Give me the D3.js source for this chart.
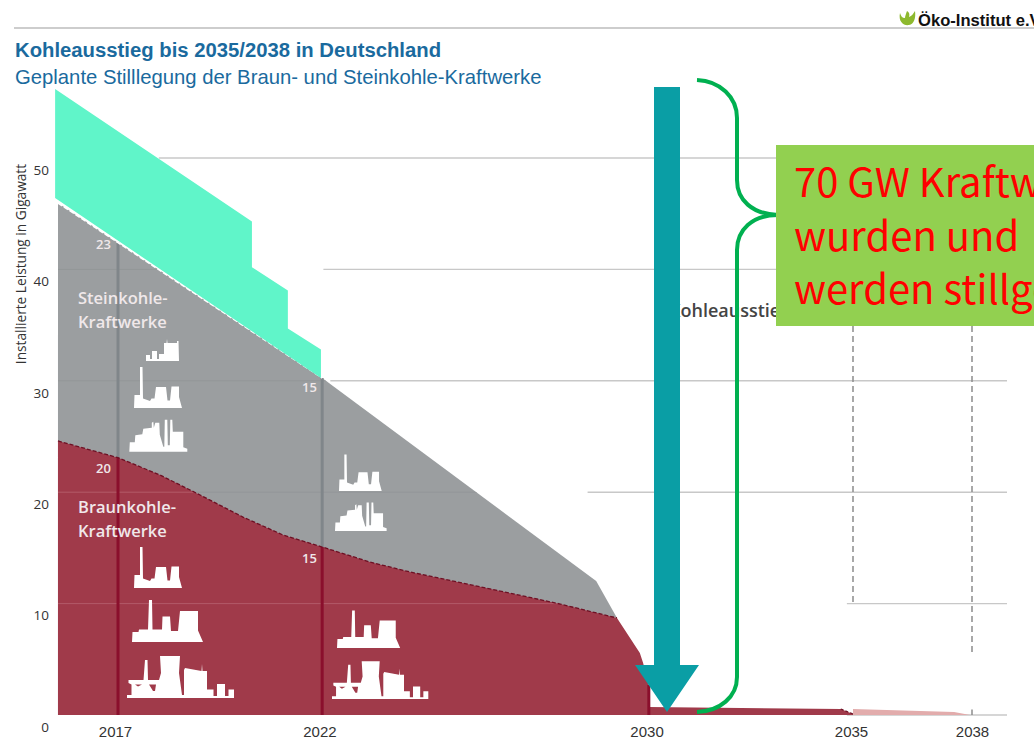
<!DOCTYPE html>
<html>
<head>
<meta charset="utf-8">
<title>Kohleausstieg</title>
<script src="https://cdn.jsdelivr.net/npm/d3@7"></script>
<style>
html, body { margin: 0; padding: 0; background: #fff; overflow: hidden; }
svg { display: block; }
</style>
</head>
<body>
<div id="chart"></div>
<script>
// values (year, gigawatt)
var coalYears = [2015.53, 2017, 2022, 2028.71, 2029.22];
var coalTop = [45.96, 42.4, 30.25, 12.03, 8.71];

var ligniteYears = [2015.53, 2017, 2018.03, 2019.01, 2020.06, 2021.04, 2022, 2023.17, 2024.15, 2026.36, 2027.83, 2029.22,
    2029.54, 2029.78, 2029.86, 2030, 2030, 2034.7, 2035];
var ligniteTop = [24.6, 23.1, 21.54, 19.75, 17.77, 16.16, 15.08, 13.73, 12.84, 11.13, 9.96, 8.71,
    6.91, 5.57, 4.67, 2.69, 0.72, 0.54, 0.09];

var paleYears = [2035, 2037.55, 2037.95];
var paleTop = [0.54, 0.27, 0];

// the mint patch that was laid over the old 2015-2022 edge
var patchYears = [2015.46, 2020.28, 2020.28, 2021.16, 2021.16, 2021.97, 2021.97, 2015.46];
var patchValues = [56.2, 44.3, 40.2, 38.1, 34.7, 32.8, 30.25, 46.4];

var yTicks = [0, 10, 20, 30, 40, 50];
var xTicks = [2017, 2022, 2030, 2035, 2038];
var gridValues = [50, 40, 30, 20, 10, 0];
var gridFrom = [2018, 2022.03, 2022.2, 2028.5, 2034.85, 2034.85];

var markYears = [2017, 2022];
var boxLines = ['70 GW Kraftwerke', 'wurden und', 'werden stillgelegt'];

var width = 1034, height = 742;
var colGrey = '#9b9ea0', colRed = '#a03a4a', colDarkRed = '#8a0f2c', colMint = '#60f5c9',
    colTeal = '#0a9ea5', colGreen = '#00b050', colBlue = '#1a6a9e';

var x = d3.scaleLinear().domain([2017, 2035, 2038]).range([118, 853, 972]);
var xLabel = d3.scaleLinear().domain([2017, 2035, 2038]).range([115, 851, 972]);
var y = d3.scaleLinear().domain([0, 50]).range([715, 158]);

var svg = d3.select('#chart').append('svg').attr('width', width).attr('height', height);

var soft = svg.append('filter').attr('id', 'soft');
soft.append('feGaussianBlur').attr('stdDeviation', 0.45);

function rows(xs, ys) {
    return xs.map(function(d, i) { return [d, ys[i]]; });
}

var area = d3.area().x(function(d) { return x(d[0]); }).y0(y(0)).y1(function(d) { return y(d[1]); });
var line = d3.line().x(function(d) { return x(d[0]); }).y(function(d) { return y(d[1]); });

var coal = rows(coalYears, coalTop);
var lignite = rows(ligniteYears, ligniteTop);
var pale = rows(paleYears, paleTop);

// faint gridlines inside one area
function innerGrid(clipId, shape, values, color) {
    svg.append('clipPath').attr('id', clipId).append('path').datum(shape).attr('d', area);
    svg.append('g').attr('clip-path', 'url(#' + clipId + ')').selectAll('line').data(values).enter().append('line')
        .attr('x1', x(2015.53)).attr('x2', x(2030))
        .attr('y1', function(d) { return y(d); })
        .attr('y2', function(d) { return y(d); })
        .attr('stroke', color);
}

// header
svg.append('line').attr('x1', 14).attr('x2', width).attr('y1', 28).attr('y2', 28)
    .attr('stroke', '#bdbdbd').attr('stroke-width', 1.5);
svg.append('text').attr('x', 15).attr('y', 57).attr('fill', colBlue)
    .style('font', 'bold 20.3px "Liberation Sans"').text('Kohleausstieg bis 2035/2038 in Deutschland');
svg.append('text').attr('x', 15).attr('y', 84).attr('fill', colBlue)
    .style('font', '20.3px "Liberation Sans"').text('Geplante Stilllegung der Braun- und Steinkohle-Kraftwerke');
svg.append('path').attr('fill', '#8db92e')
    .attr('d', 'M900 13C898 22 904 26 909 25C914 24 916 18 915 11C913 14 912 16 909 17C910 14 909 12 907 11C906 14 905 16 905 18C902 18 901 16 900 13Z');
svg.append('text').attr('x', 918).attr('y', 26).attr('fill', '#111')
    .style('font', 'bold 16.6px "Liberation Sans"').text('Öko-Institut e.V.');

// gridlines, they only start where the picture shows them
svg.append('g').selectAll('line').data(gridValues).enter().append('line')
    .attr('x1', function(d, i) { return x(gridFrom[i]); })
    .attr('x2', 1007)
    .attr('y1', function(d) { return y(d); })
    .attr('y2', function(d) { return y(d); })
    .attr('stroke', '#c8c8c8').attr('stroke-width', 1.4);

// areas
svg.append('path').datum(pale).attr('d', area).attr('fill', '#e2acac');
svg.append('path').datum(coal).attr('d', area).attr('fill', colGrey);
innerGrid('coalClip', coal, [40, 30, 20], '#939698');
svg.append('path').datum(lignite).attr('d', area).attr('fill', colRed);
innerGrid('ligniteClip', lignite, [20, 10], '#b25a68');

// vertical year marks
markYears.forEach(function(year, i) {
    var top = coalTop[coalYears.indexOf(year)];
    var split = ligniteTop[ligniteYears.indexOf(year)];
    svg.append('line').attr('x1', x(year)).attr('x2', x(year)).attr('y1', y(top)).attr('y2', y(split))
        .attr('stroke', '#80868a').attr('stroke-width', 3);
    svg.append('line').attr('x1', x(year)).attr('x2', x(year)).attr('y1', y(split)).attr('y2', y(0))
        .attr('stroke', colDarkRed).attr('stroke-width', 3);
});
svg.append('line').attr('x1', x(2030)).attr('x2', x(2030)).attr('y1', y(2.69)).attr('y2', y(0))
    .attr('stroke', colDarkRed).attr('stroke-width', 3);

// planned dates
[[2035, 10], [2038, 5.3]].forEach(function(d) {
    svg.append('line').attr('x1', x(d[0])).attr('x2', x(d[0])).attr('y1', 326).attr('y2', y(d[1]))
        .attr('stroke', '#8c8c8c').attr('stroke-width', 1.5).attr('stroke-dasharray', '6 4');
});
svg.append('line').attr('x1', x(2038)).attr('x2', x(2038)).attr('y1', y(0.5)).attr('y2', y(0))
    .attr('stroke', '#8c8c8c').attr('stroke-width', 1.5);

// dashed edges
svg.append('path').datum(coal.slice(0, 3)).attr('d', line).attr('fill', 'none')
    .attr('stroke', '#fff').attr('stroke-width', 1.5).attr('stroke-dasharray', '5 2');
svg.append('path').datum(lignite.slice(0, 12)).attr('d', line).attr('fill', 'none')
    .attr('stroke', '#6e1024').attr('stroke-width', 1.3).attr('stroke-dasharray', '4 2');
svg.append('path').datum(lignite.slice(17)).attr('d', line).attr('fill', 'none')
    .attr('stroke', '#6e1024').attr('stroke-width', 1.3).attr('stroke-dasharray', '3 2');

// mint patch
svg.append('path').datum(rows(patchYears, patchValues))
    .attr('d', function(d) { return line(d) + 'Z'; }).attr('fill', colMint);

// axes
var yAxis = d3.axisLeft(y).tickValues(yTicks).tickSize(0).tickPadding(0);
var yG = svg.append('g').attr('transform', 'translate(49,12)').call(yAxis);
yG.select('.domain').remove();
yG.selectAll('text').attr('fill', '#333').style('font', '13.5px "Open Sans"');

var xAxis = d3.axisBottom(xLabel).tickValues(xTicks).tickFormat(d3.format('d')).tickSize(0).tickPadding(0);
var xG = svg.append('g').attr('transform', 'translate(0,726)').call(xAxis);
xG.select('.domain').remove();
xG.selectAll('text').attr('fill', '#333').style('font', '15px "Liberation Sans"');

svg.append('text').attr('transform', 'translate(26,264) rotate(-90)').attr('text-anchor', 'middle')
    .attr('fill', '#333').style('font', '13.7px "Open Sans"').text('Installierte Leistung in Gigawatt');

// labels inside the areas
function areaText(tx, ty, txt, size, weight) {
    svg.append('text').attr('x', tx).attr('y', ty).attr('fill', '#f0e8ea')
        .style('font', weight + ' ' + size + 'px "Open Sans"').text(txt);
}
areaText(78, 304, 'Steinkohle-', 16.5, 600);
areaText(78, 328, 'Kraftwerke', 16.5, 600);
areaText(78, 513, 'Braunkohle-', 16.5, 600);
areaText(78, 537, 'Kraftwerke', 16.5, 600);
areaText(96, 249, '23', 13, 600);
areaText(96, 473, '20', 13, 600);
areaText(302, 392, '15', 13, 600);
areaText(302, 563, '15', 13, 600);

// power plant pictograms, bottom left is 0,0
var icons = {
    a: 'M0 0V-6H4V-2H6V-10H11V-2H13V-7H18V-18H20.5L21 -22L21.5 -18H31V-20H32.5L33 0Z',
    b: 'M0 0L.5 -13H6V-41H8.5L9 -9.5L16 -7L17.5 -9.5H20.5L22 -21H32L33.5 -7.5H36L37.5 -21.5H45V-11L48 0Z',
    c: 'M0 0L.5 -9.5H5.5L6 -16.5L13 -17.5L14 -23L22.5 -24V-29L24 -30L24.5 -24L26 -29H30L30.5 -17L34 -5H35L35.5 -32H38L38.5 -6.5H40.5L41 -32H43L43.5 -20H54V-4.5L58 -3V0Z',
    d: 'M0 0L.5 -10H6.5L7 -12.5H16L17 -42H20L20.5 -12.5H30L30.5 -25.5H38L39 -11H46L48 -31H66V-11.5L71 0Z',
    e: 'M0 0V-3H4.5V-13.5L1.5 -15V-18H16.5L18 -38H20.5L21 -18H32L34 -25L33 -42H53L52 -25L55 -3H57V-28L58 -30L74.5 -27L75 -34L75.5 -27H80V-8.5H86.5V-2H90V-14H98V-2H101.5V-8.5H107V0ZM8 -13.5L11 -11.5L15 -13.5ZM22 -13.5L26 -7H28L29 -13.5Z'
};
var iconSpots = [
    ['a', 146, 361, 1], ['b', 134, 408, 1], ['c', 129.3, 451.7, 1],
    ['b', 134, 588, 1], ['d', 132, 642, 1], ['e', 127, 698, 1],
    ['b', 339, 491, 0.89], ['c', 335, 531, 0.89],
    ['d', 337, 648, 0.89], ['e', 332, 699, 0.9]
];
svg.append('g').attr('filter', 'url(#soft)').selectAll('path').data(iconSpots).enter().append('path')
    .attr('d', function(d) { return icons[d[0]]; })
    .attr('transform', function(d) { return 'translate(' + d[1] + ',' + d[2] + ') scale(' + d[3] + ')'; })
    .attr('fill', '#fff').attr('fill-rule', 'evenodd');

// annotation layer sits on top of everything
svg.append('text').attr('x', 669).attr('y', 317).attr('fill', '#444')
    .style('font', '600 18px "Open Sans"').text('Kohleausstieg');

svg.append('path').attr('fill', colTeal)
    .attr('d', 'M654 87H680V665H699L667 712L635 665H654Z');

svg.append('path').attr('fill', 'none').attr('stroke', colGreen).attr('stroke-width', 4)
    .attr('d', 'M697 80C720 81 737 97 737 118V180C737 200 752 214 778 215C752 215 737 230 737 250V677C737 697 720 711 697 712');

svg.append('rect').attr('x', 776).attr('y', 145).attr('width', 258).attr('height', 181).attr('fill', '#92d050');
svg.append('g').selectAll('text').data(boxLines).enter().append('text')
    .attr('x', 794)
    .attr('y', function(d, i) { return 197 + i * 53.5; })
    .attr('fill', '#ff0000')
    .style('font', '40px "Noto Sans CJK SC"')
    .text(function(d) { return d; });
</script>
</body>
</html>
